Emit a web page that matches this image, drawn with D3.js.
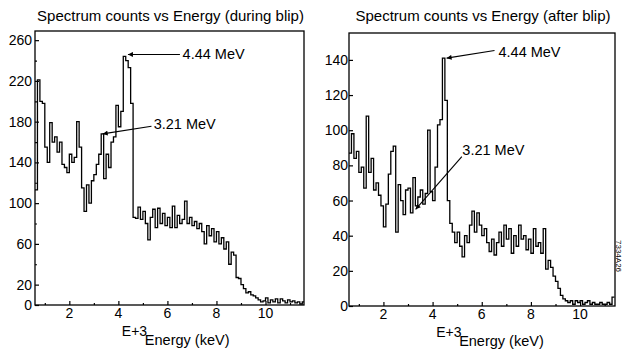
<!DOCTYPE html>
<html>
<head>
<meta charset="utf-8">
<script src="https://cdn.jsdelivr.net/npm/d3@7"></script>
<style>
body { margin: 0; background: #fff; }
svg { display: block; font-family: "Liberation Sans", Arial, Helvetica, sans-serif; }
</style>
</head>
<body>
<script>
// histogram bins: lower edge of first bin and bin width, in E+3 keV
var binStart = 0.6, binWidth = 0.1;

// counts per bin, during blip
var duringCounts = [
  113,221,200,198,155,140,179,160,165,150,
  160,138,135,130,148,140,145,180,155,115,
  92,118,100,122,128,138,148,168,124,148,
  135,160,165,196,175,190,244,240,233,198,
  86,85,96,84,92,80,64,86,94,76,
  95,80,90,78,86,76,97,76,88,80,
  84,102,80,86,78,82,75,80,72,60,
  78,68,75,62,72,60,66,55,62,40,
  52,49,27,26,20,16,12,13,10,9,
  7,5,3,4,7,2,5,3,6,2,
  6,4,2,5,3,4,2,3,1,3
];

// counts per bin, after blip
var afterCounts = [
  87,98,84,88,76,79,67,108,76,84,
  66,70,63,57,45,58,75,88,91,42,
  69,60,52,66,67,53,73,57,62,66,
  58,64,100,65,60,79,103,106,141,117,
  60,47,42,36,42,34,28,40,36,46,
  54,42,53,46,40,44,36,31,38,29,
  36,42,34,46,38,44,30,40,34,46,
  38,40,32,38,30,44,34,36,30,44,
  21,26,22,17,14,10,6,4,3,2,
  3,1,3,2,3,1,2,3,1,2,
  1,1,2,1,1,2,1,5
];

var xTicks = [2, 4, 6, 8, 10];
var xMinorTicks = [1, 3, 5, 7, 9, 11];
var duringYTicks = [0, 20, 60, 100, 140, 180, 220, 260];
var duringYMinor = [40, 80, 120, 160, 200, 240];
var afterYTicks = [0, 20, 40, 60, 80, 100, 120, 140];
var afterYMinor = [];

var titles = ["Spectrum counts vs Energy (during blip)", "Spectrum counts vs Energy (after blip)"];

// line labels: text, where the arrow points (data), arrow tail (data), text start (data)
var duringNotes = [
  { text: "4.44 MeV", tip: [4.39, 246], tail: [6.51, 246], at: [6.62, 246] },
  { text: "3.21 MeV", tip: [3.36, 168], tail: [5.35, 175.5], at: [5.44, 177.5] }
];
var afterNotes = [
  { text: "4.44 MeV", tip: [4.57, 141], tail: [6.52, 145.3], at: [6.68, 144.7] },
  { text: "3.21 MeV", tip: [3.31, 55], tail: [5.19, 85], at: [5.21, 88.8] }
];

var width = 624, height = 349;

var svg = d3.select("body").append("svg")
  .attr("width", width)
  .attr("height", height);

var defs = svg.append("defs");
defs.append("marker")
  .attr("id", "head")
  .attr("viewBox", "0 0 10 10")
  .attr("refX", 10).attr("refY", 5)
  .attr("markerWidth", 6).attr("markerHeight", 5)
  .attr("markerUnits", "userSpaceOnUse")
  .attr("orient", "auto")
  .append("path")
  .attr("d", "M0,0 L10,5 L0,10 z")
  .attr("fill", "#000");

var panels = [
  { counts: duringCounts, left: 35, right: 304, top: 31, bottom: 305,
    xDomain: [0.6, 11.57], yDomain: [0, 269], yTicks: duringYTicks, yMinor: duringYMinor,
    notes: duringNotes, title: titles[0], labelGap: 3 },
  { counts: afterCounts, left: 349, right: 615, top: 33, bottom: 306,
    xDomain: [0.6, 11.42], yDomain: [0, 155.3], yTicks: afterYTicks, yMinor: afterYMinor,
    notes: afterNotes, title: titles[1], labelGap: 1 }
];

panels.forEach(function(p, i) {
  var x = d3.scaleLinear().domain(p.xDomain).range([p.left, p.right]);
  var y = d3.scaleLinear().domain(p.yDomain).range([p.bottom, p.top]);

  var g = svg.append("g");

  // title
  g.append("text")
    .attr("x", (p.left + p.right) / 2 + 1)
    .attr("y", 21)
    .attr("text-anchor", "middle")
    .style("font-size", "15px")
    .text(p.title);

  // histogram as a step line
  var pts = p.counts.map(function(c, k) { return [binStart + k * binWidth, c]; });
  pts.push([binStart + p.counts.length * binWidth, p.counts[p.counts.length - 1]]);
  var line = d3.line()
    .x(function(d) { return x(Math.min(d[0], p.xDomain[1])); })
    .y(function(d) { return y(d[1]); })
    .curve(d3.curveStepAfter);
  g.append("path")
    .datum(pts)
    .attr("d", line)
    .attr("fill", "none")
    .attr("stroke", "#000")
    .attr("stroke-width", 1.3);

  // frame
  g.append("rect")
    .attr("x", p.left).attr("y", p.top)
    .attr("width", p.right - p.left).attr("height", p.bottom - p.top)
    .attr("fill", "none")
    .attr("stroke", "#000")
    .attr("stroke-width", 1.3);

  // x axis ticks (inward)
  var xAxis = d3.axisTop(x).tickValues(xTicks).tickSize(4).tickFormat("");
  g.append("g").attr("transform", "translate(0," + p.bottom + ")").call(xAxis)
    .call(function(s) { s.select(".domain").remove(); });
  var xAxisMinor = d3.axisTop(x).tickValues(xMinorTicks).tickSize(2).tickFormat("");
  g.append("g").attr("transform", "translate(0," + p.bottom + ")").call(xAxisMinor)
    .call(function(s) { s.select(".domain").remove(); });
  g.selectAll(".xlab").data(xTicks).enter().append("text")
    .attr("x", function(d) { return x(d); })
    .attr("y", p.bottom + 13)
    .attr("text-anchor", "middle")
    .style("font-size", "14px")
    .text(function(d) { return d; });

  // y axis ticks (inward)
  var yAxis = d3.axisRight(y).tickValues(p.yTicks).tickSize(4).tickFormat("");
  g.append("g").attr("transform", "translate(" + p.left + ",0)").call(yAxis)
    .call(function(s) { s.select(".domain").remove(); });
  var yAxisMinor = d3.axisRight(y).tickValues(p.yMinor).tickSize(2).tickFormat("");
  g.append("g").attr("transform", "translate(" + p.left + ",0)").call(yAxisMinor)
    .call(function(s) { s.select(".domain").remove(); });
  g.selectAll(".ylab").data(p.yTicks).enter().append("text")
    .attr("x", p.left - p.labelGap)
    .attr("y", function(d) { return y(d) + 5; })
    .attr("text-anchor", "end")
    .style("font-size", "14px")
    .text(function(d) { return d; });

  g.selectAll(".tick line").attr("stroke", "#000").attr("stroke-width", 1.2);

  // axis title
  var mid = x(5.08);
  g.append("text")
    .attr("x", mid - 23).attr("y", p.bottom + 31)
    .style("font-size", "14px")
    .text("E+3");
  g.append("text")
    .attr("x", mid).attr("y", p.bottom + 40)
    .style("font-size", "14.5px")
    .text("Energy (keV)");

  // peak labels with arrows
  p.notes.forEach(function(n) {
    g.append("line")
      .attr("x1", x(n.tail[0])).attr("y1", y(n.tail[1]))
      .attr("x2", x(n.tip[0])).attr("y2", y(n.tip[1]))
      .attr("stroke", "#000")
      .attr("stroke-width", 1.1)
      .attr("marker-end", "url(#head)");
    g.append("text")
      .attr("x", x(n.at[0]))
      .attr("y", y(n.at[1]) + 5)
      .style("font-size", "14.5px")
      .text(n.text);
  });
});

// figure id on the right edge
svg.append("text")
  .attr("transform", "translate(616,240) rotate(90)")
  .style("font-size", "8px")
  .text("7334A26");
</script>
</body>
</html>
